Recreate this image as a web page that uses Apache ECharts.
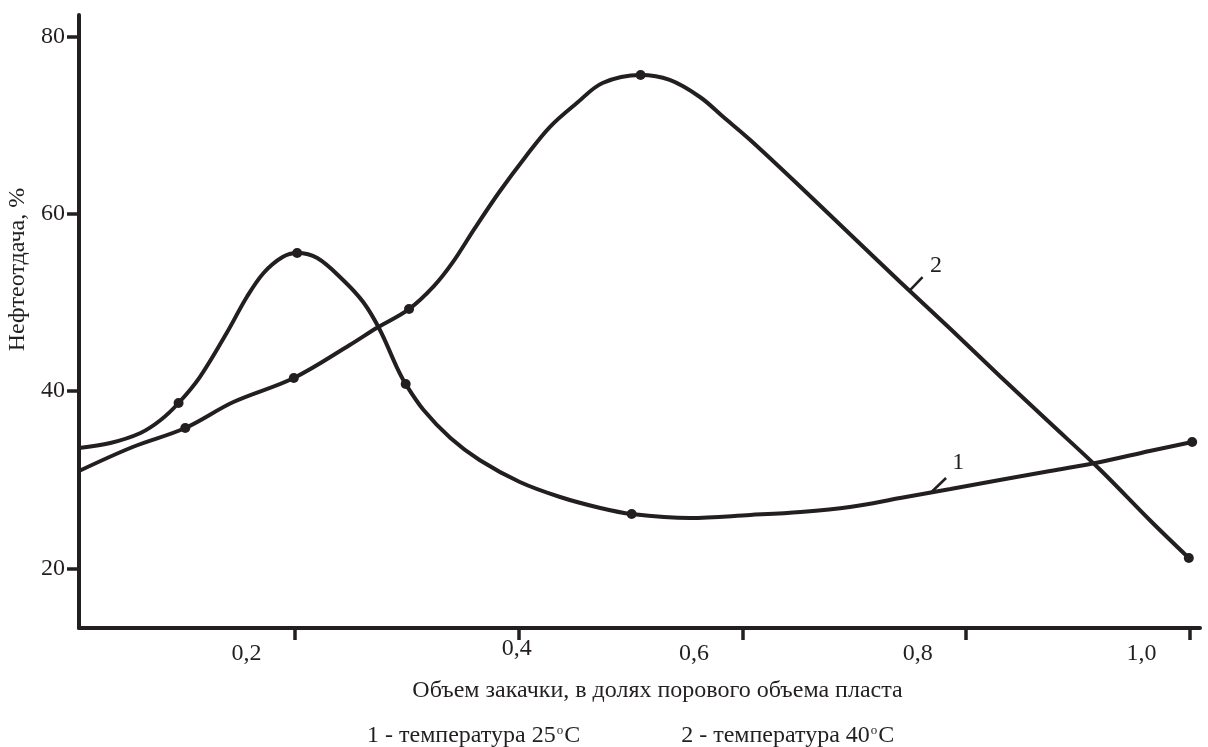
<!DOCTYPE html>
<html>
<head>
<meta charset="utf-8">
<script src="https://cdn.jsdelivr.net/npm/echarts@6/dist/echarts.min.js"></script>
<style>html,body{margin:0;padding:0;background:#fff}#c{width:1208px;height:747px}</style>
</head>
<body>
<div id="c"></div>
<script>
// ---- data ----
const seriesNames = ['1 - температура 25°C', '2 - температура 40°C'];
const xTicks = [0.2, 0.4, 0.6, 0.8, 1.0];
const xTickLabels = ['0,2', '0,4', '0,6', '0,8', '1,0'];
const yTicks = [20, 40, 60, 80];
const yTickLabels = ['20', '40', '60', '80'];
const xName = 'Объем закачки, в долях порового объема пласта';
const yName = 'Нефтеотдача, %';

// curve 1 (25°C)
const curve1Trace = [
  [0.007, 33.56], [0.035, 34.13], [0.062, 35.26], [0.080, 36.72], [0.096, 38.64],
  [0.115, 41.57], [0.139, 46.54], [0.157, 50.6], [0.172, 53.31], [0.189, 55.11],
  [0.202, 55.56], [0.220, 55.0], [0.243, 52.52], [0.261, 50.03], [0.276, 46.88],
  [0.291, 42.7], [0.299, 40.78], [0.315, 37.85], [0.339, 34.69], [0.365, 32.21],
  [0.401, 29.73], [0.437, 28.04], [0.473, 26.8], [0.501, 26.12], [0.553, 25.67],
  [0.607, 26.01], [0.652, 26.35], [0.696, 26.91], [0.741, 27.92], [0.786, 28.94],
  [0.830, 29.95], [0.875, 30.97], [0.920, 31.99], [0.964, 33.23], [1.002, 34.24]
];
const curve1Dots = [[0.096, 38.64], [0.202, 55.56], [0.299, 40.78], [0.501, 26.12], [1.002, 34.24]];

// curve 2 (40°C)
const curve2Trace = [
  [0.007, 30.97], [0.055, 33.68], [0.102, 35.82], [0.145, 38.75], [0.199, 41.46],
  [0.249, 45.18], [0.273, 47.1], [0.302, 49.24], [0.324, 51.8], [0.341, 54.5],
  [0.361, 58.4], [0.383, 62.5], [0.406, 66.4], [0.428, 69.8], [0.452, 72.48],
  [0.475, 74.74], [0.509, 75.64], [0.535, 75.08], [0.562, 73.16], [0.583, 70.9],
  [0.607, 68.31], [0.652, 63.01], [0.696, 57.7], [0.741, 52.29], [0.786, 46.99],
  [0.830, 41.69], [0.875, 36.38], [0.920, 31.08], [0.964, 25.44], [0.999, 21.16]
];
const curve2Dots = [[0.102, 35.82], [0.199, 41.46], [0.302, 49.24], [0.509, 75.64], [0.999, 21.16]];

// curve number callouts: leader line ends and text position
const callout1Leader = [[0.769, 28.6], [0.782, 30.18]];
const callout1Text = [0.793, 31.87];
const callout2Leader = [[0.749, 51.27], [0.761, 52.85]];
const callout2Text = [0.773, 54.09];

// ---- chart ----
const INK = '#231f20';
const FONT = 'Liberation Serif';
const FS = 24;

const xLabelStyle = {
  '0,4': '{u|0,4}'
};
function xFmt(v) {
  const i = xTicks.findIndex(t => Math.abs(t - v) < 1e-6);
  const t = i >= 0 ? xTickLabels[i] : '';
  return xLabelStyle[t] || ('{s|' + t + '}');
}
function yFmt(v) {
  const i = yTicks.findIndex(t => Math.abs(t - v) < 1e-6);
  return i >= 0 ? yTickLabels[i] : '';
}

function callout(leader) {
  return {
    silent: true,
    symbol: 'none',
    lineStyle: { color: INK, width: 2.5, type: 'solid' },
    label: { show: false },
    data: [[{ coord: leader[0] }, { coord: leader[1] }]]
  };
}
function calloutText(textPos, text) {
  return {
    silent: true,
    symbol: 'circle',
    symbolSize: 0,
    label: { show: true, position: 'inside', formatter: text, color: INK, fontFamily: FONT, fontSize: FS },
    data: [{ coord: textPos }]
  };
}

const chart = echarts.init(document.getElementById('c'), null, { renderer: 'canvas' });
chart.setOption({
  backgroundColor: '#ffffff',
  animation: false,
  textStyle: { fontFamily: FONT, color: INK },
  grid: { left: 79, right: 8, top: 15, bottom: 119, containLabel: false, outerBoundsMode: 'none' },
  legend: {
    data: seriesNames,
    icon: 'none',
    itemWidth: 0,
    itemHeight: 0,
    itemGap: 96,
    left: 357,
    top: 719,
    selectedMode: false,
    textStyle: {
      fontFamily: FONT, fontSize: FS, color: INK,
      rich: { sup: { fontSize: 13, verticalAlign: 'top', fontFamily: FONT, color: INK, padding: [0, 1, 0, 1] } }
    },
    formatter: name => name.replace('°C', '{sup|o}C')
  },
  xAxis: {
    type: 'value',
    min: 0.007,
    max: 1.009,
    name: xName,
    nameLocation: 'middle',
    nameGap: 51,
    nameTextStyle: { fontFamily: FONT, fontSize: FS, color: INK, padding: [0, 0, 0, 36] },
    axisLine: { show: true, lineStyle: { color: INK, width: 4 } },
    axisTick: { show: true, inside: false, length: 12, customValues: xTicks, lineStyle: { color: INK, width: 3.5 } },
    axisLabel: {
      show: true, margin: 14, customValues: xTicks, formatter: xFmt,
      fontFamily: FONT, fontSize: FS, color: INK,
      rich: {
        s: { fontFamily: FONT, fontSize: FS, color: INK, lineHeight: 24, padding: [0, 97, 0, 0] },
        u: { fontFamily: FONT, fontSize: FS, color: INK, lineHeight: 14, padding: [0, 4, 0, 0] }
      }
    },
    splitLine: { show: false }
  },
  yAxis: {
    type: 'value',
    min: 13.26,
    max: 82.41,
    name: yName,
    nameLocation: 'middle',
    nameGap: 48,
    nameRotate: 90,
    nameTextStyle: { fontFamily: FONT, fontSize: FS, color: INK, padding: [0, 0, 0, 104] },
    axisLine: { show: true, lineStyle: { color: INK, width: 4 } },
    axisTick: { show: true, inside: false, length: 12, customValues: yTicks, lineStyle: { color: INK, width: 3.5 } },
    axisLabel: { show: true, margin: 14, customValues: yTicks, formatter: yFmt, fontFamily: FONT, fontSize: FS, color: INK },
    splitLine: { show: false }
  },
  series: [
    {
      name: seriesNames[0], type: 'line', data: curve1Trace, smooth: 0.35,
      showSymbol: false, symbol: 'none', color: INK,
      lineStyle: { color: INK, width: 4 },
      markLine: callout(callout1Leader),
      markPoint: calloutText(callout1Text, '1')
    },
    {
      name: seriesNames[1], type: 'line', data: curve2Trace, smooth: 0.35,
      showSymbol: false, symbol: 'none', color: INK,
      lineStyle: { color: INK, width: 4 },
      markLine: callout(callout2Leader),
      markPoint: calloutText(callout2Text, '2')
    },
    {
      name: 'dots1', type: 'scatter', data: curve1Dots, symbol: 'circle', symbolSize: 10,
      itemStyle: { color: INK, opacity: 1 }, z: 5
    },
    {
      name: 'dots2', type: 'scatter', data: curve2Dots, symbol: 'circle', symbolSize: 10,
      itemStyle: { color: INK, opacity: 1 }, z: 5
    }
  ]
});
</script>
</body>
</html>
